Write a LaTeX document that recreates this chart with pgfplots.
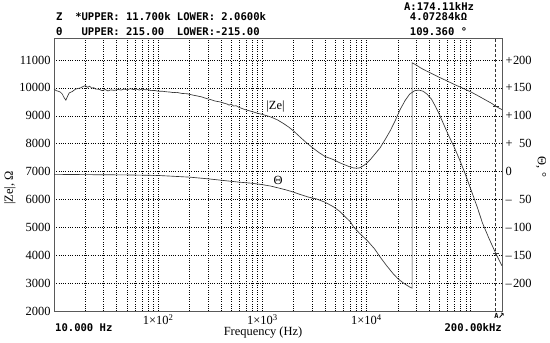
\documentclass[border=0pt]{standalone}
\usepackage{fontspec}
\setmainfont{Liberation Serif}
\newfontfamily\instr{DejaVu Sans Mono}
\usepackage{pgfplots}
\pgfplotsset{compat=1.18}
\newcommand\rl[2]{\makebox[0.6em][l]{#1}\makebox[1.5em][r]{#2}}
\newcommand\ins{\instr\bfseries\fontsize{10.6}{12}\selectfont}

\pgfplotstableread{
f Z
10 9960
10.5 9900
11 9880
11.5 9850
12 9780
12.5 9650
13 9560
13.5 9700
14 9820
15 9870
16 9950
17 9980
18 10000
19 10050
20 10080
21 10020
22 10060
23 9990
24 10010
25 9960
27 9950
29 9900
31 9940
33 9890
35 9930
38 9910
41 9950
44 9920
47 9960
50 9930
54 9970
58 9940
62 9960
66 9920
70 9960
75 9930
80 9940
86 9900
92 9910
100 9880
110 9880
120 9860
130 9850
140 9830
150 9840
170 9800
190 9790
210 9750
230 9720
260 9680
290 9620
320 9580
350 9530
400 9490
430 9450
460 9420
480 9380
500 9420
530 9350
560 9360
600 9300
650 9250
700 9210
800 9150
900 9090
1000 9050
1200 8960
1400 8850
1600 8720
1800 8590
2000 8450
2300 8240
2600 8060
3000 7870
3500 7680
4000 7540
4800 7430
5500 7320
6000 7260
6800 7180
7500 7130
8000 7120
8500 7130
9000 7170
10000 7290
11000 7450
12000 7620
13500 7850
15000 8130
17000 8480
19000 8850
21000 9220
23500 9550
26000 9780
29000 9900
32000 9920
35000 9880
38000 9780
42000 9600
46000 9330
50000 9050
55000 8700
60000 8380
65000 8100
70000 7850
80000 7340
90000 6850
100000 6380
115000 5750
130000 5150
150000 4600
174000 4070
200000 3620
}\zdata

\pgfplotstableread{
f T
10 -5
20 -5.5
50 -6
100 -7
200 -10
300 -13
400 -15.5
600 -19
800 -21
1000 -23.5
1200 -26
1400 -29
1700 -33
2000 -37
2300 -41
2800 -46
3300 -49
4000 -55
4800 -63
5500 -71
6000 -78
7000 -90
7500 -99
8500 -110
10200 -124
12000 -139
13500 -153
15500 -168
18000 -183
20000 -192
22300 -199
24000 -203
26000 -207
27400 -209
27400 195
30000 191
33000 186
37000 181
42000 176
50000 169
60000 162
70000 156
85000 149
100000 143
120000 135
140000 128
160000 122
174000 117
200000 111
}\tdata

\begin{document}
\begin{tikzpicture}[x=1bp,y=1bp]
\path[use as bounding box] (0,0) rectangle (550,342);

\begin{axis}[
  at={(54bp,31bp)}, anchor=south west,
  scale only axis, width=448bp, height=272bp,
  xmode=log, xmin=10, xmax=200000,
  ymin=2000, ymax=11753,
  scaled y ticks=false,
  axis line style={draw=black!65, line width=1pt},
  major tick length=0pt, minor tick length=0pt,
  xtick={20,30,40,50,60,70,80,90,100,200,300,400,500,600,700,800,900,1000,2000,3000,4000,5000,6000,7000,8000,9000,10000,20000,30000,40000,50000,60000,70000,80000,90000,100000},
  xticklabels={,,,,,,,,1×10\textsuperscript{2},,,,,,,,,1×10\textsuperscript{3},,,,,,,,,1×10\textsuperscript{4}},
  ytick={2000,3000,4000,5000,6000,7000,8000,9000,10000,11000},
  yticklabels={2000,3000,4000,5000,6000,7000,8000,9000,10000,11000},
  tick label style={font=\fontsize{12.5}{14}\selectfont},
  xmajorgrids, ymajorgrids,
  grid style={black, line width=0.55pt, dash pattern=on 0.6pt off 1.7pt},
  clip=false,
]
\addplot[black!80, line width=0.65pt] table[x=f,y=Z] {\zdata};
\addplot[black!80, line width=0.8pt, dash pattern=on 3pt off 2pt] coordinates {(174110,2000) (174110,11753)};
\addplot[black!80, mark=-, mark size=3pt, only marks] coordinates {(174110,4073)};
\end{axis}

\begin{axis}[
  at={(54bp,31bp)}, anchor=south west,
  scale only axis, width=448bp, height=272bp,
  xmode=log, xmin=10, xmax=200000,
  xtick=\empty, xticklabels={},
  ymin=-250, ymax=237.65,
  scaled y ticks=false,
  axis x line=none, axis y line*=right,
  axis line style={draw=black!65, line width=1pt},
  major tick length=0pt, minor tick length=0pt,
  ytick={-200,-150,-100,-50,0,50,100,150,200},
  yticklabels={\rl{–}{200},\rl{–}{150},\rl{–}{100},\rl{–}{50},0,\rl{+}{50},\rl{+}{100},\rl{+}{150},\rl{+}{200}},
  tick label style={font=\fontsize{12.5}{14}\selectfont},
  clip=false,
]
\addplot[black!80, line width=0.65pt] table[x=f,y=T] {\tdata};
\addplot[black!80, mark=-, mark size=3pt, only marks] coordinates {(174110,117)};
\end{axis}

% instrument texts
\node[anchor=west, inner sep=0pt, font=\ins] at (56,325) {Z~~*UPPER:~11.700k~LOWER:~2.0600k};
\node[anchor=west, inner sep=0pt, font=\ins] at (56,310) {θ~~~UPPER:~215.00~~LOWER:-215.00};
\node[inner sep=0pt, font=\ins] at (439,336) {A:174.11kHz};
\node[inner sep=0pt, font=\ins] at (438.5,325) {4.07284kΩ};
\node[inner sep=0pt, font=\ins] at (438.5,310) {109.360~°};
\node[anchor=west, inner sep=0pt, font=\ins] at (55,14) {10.000~Hz};
\node[anchor=east, inner sep=0pt, font=\ins] at (502,14) {200.00kHz};
\node[inner sep=0pt, font=\instr\bfseries\fontsize{7}{8}\selectfont] at (496.5,26.5) {A};
\draw[black, line width=0.8pt] (499.5,24.5) -- (503,28.5);
\draw[black, line width=0.8pt] (501,29) -- (503,28.5) -- (503.3,26.5);

% labels
\node[inner sep=0pt, font=\fontsize{12.5}{14}\selectfont] at (263,9) {Frequency (Hz)};
\node[inner sep=0pt, font=\fontsize{12.5}{14}\selectfont, rotate=90] at (10,154) {|Ze|, Ω};
\node[inner sep=0pt, font=\fontsize{12.5}{14}\selectfont, rotate=-90] at (541,175) {Θ, °};
\node[inner sep=0pt, font=\fontsize{12.5}{14}\selectfont] at (275.5,235.3) {|Ze|};
\node[inner sep=0pt, font=\fontsize{12.5}{14}\selectfont] at (278,162) {Θ};
\end{tikzpicture}
\end{document}
